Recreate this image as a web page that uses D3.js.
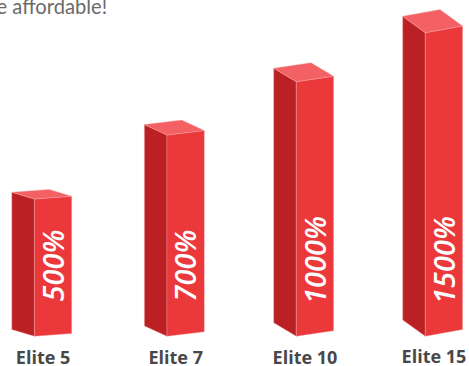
<!DOCTYPE html>
<html>
<head>
<meta charset="utf-8">
<script src="https://cdn.jsdelivr.net/npm/d3@7"></script>
<style>
html,body{margin:0;padding:0;background:#fff;overflow:hidden}
svg{display:block}
</style>
</head>
<body>
<svg id="chart" width="469" height="366"></svg>
<script>
// Payout multipliers per membership tier
const tiers = ["Elite 5", "Elite 7", "Elite 10", "Elite 15"];
const payouts = [500, 700, 1000, 1500];
const heading = "e affordable!";

const width = 469, height = 366;
const baseY = 336.3;          // floor line at the front corner of every column
const leftWidth = 22.6;       // receding left face
const frontWidth = 37.3;      // front face

// The columns are spaced on an uneven stage, and the value axis is compressed at the top
const xScale = d3.scaleOrdinal().domain(tiers).range([11.8, 144.4, 273.7, 402.7]);
const yScale = d3.scaleLinear().domain(payouts).range([199, 135, 81.7, 32.7]);
// Viewing angle opens up as the columns move to the right
const leftRise = d3.scaleLinear().domain([11.8, 144.4, 273.7, 402.7]).range([6.8, 10.4, 13.5, 16.4]);
const rightRise = d3.scaleLinear().domain([11.8, 144.4, 273.7, 402.7]).range([2.8, 4.5, 5.5, 6.7]);

const svg = d3.select("#chart");
const pts = a => a.map(p => p.join(",")).join(" ");

svg.append("text")
  .attr("x", -3.5).attr("y", 13.5)
  .attr("font-family", "Lato, sans-serif")
  .attr("font-size", 20.2)
  .attr("fill", "#6b6b6b")
  .text(heading);

const bars = svg.selectAll("g.bar")
  .data(tiers.map((t, i) => ({ tier: t, value: payouts[i] })))
  .join("g").attr("class", "bar");

bars.each(function (d) {
  const g = d3.select(this);
  const x0 = xScale(d.tier), x1 = x0 + leftWidth, x2 = x1 + frontWidth;
  const yT = yScale(d.value);
  const lr = leftRise(x0), rr = rightRise(x0);
  const edge = "#f3a5a7";

  // left face
  g.append("polygon")
    .attr("points", pts([[x0, yT - lr], [x1, yT], [x1, baseY], [x0, baseY - lr]]))
    .attr("fill", "#bb2124").attr("stroke", edge).attr("stroke-width", 0.4);
  // front face
  g.append("polygon")
    .attr("points", pts([[x1, yT], [x2, yT - rr], [x2, baseY - rr], [x1, baseY]]))
    .attr("fill", "#eb383b").attr("stroke", edge).attr("stroke-width", 0.4);
  // top face
  g.append("polygon")
    .attr("points", pts([[x0, yT - lr], [x1, yT], [x2, yT - rr], [x0 + frontWidth, yT - lr - rr]]))
    .attr("fill", "#f46165").attr("stroke", edge).attr("stroke-width", 0.4);

  // value, reading upward along the front face; a leading 1 has extra side bearing
  const startY = d.value >= 1000 ? 304 : 301.5;
  g.append("text")
    .attr("transform", `translate(${x1 + 29.3},${startY}) rotate(-90)`)
    .attr("font-family", "'Open Sans', sans-serif")
    .attr("font-style", "italic")
    .attr("font-weight", 600)
    .attr("font-size", 29)
    .attr("fill", "#ffffff")
    .text(d.value + "%");

  // tier name
  g.append("text")
    .attr("x", x0 + 31.3)
    .attr("y", d.tier === "Elite 15" ? 363 : 364)
    .attr("text-anchor", "middle")
    .attr("font-family", "'Open Sans', sans-serif")
    .attr("font-weight", 700)
    .attr("font-size", 18)
    .attr("fill", "#484848")
    .text(d.tier);
});
</script>
</body>
</html>
